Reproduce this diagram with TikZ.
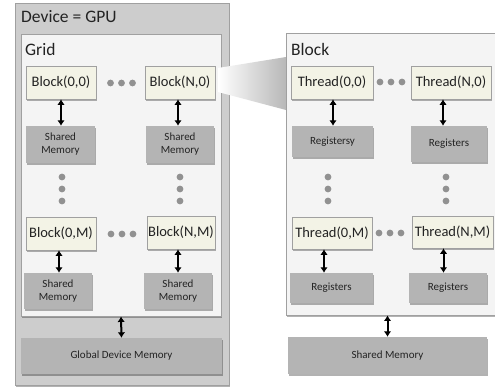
\documentclass[tikz,border=0pt]{standalone}
\usepackage{fontspec}
\setmainfont{Carlito}
\usetikzlibrary{arrows.meta,shadows}

\definecolor{devfill}{RGB}{205,205,205}
\definecolor{gridfill}{RGB}{244,244,244}
\definecolor{memfill}{RGB}{180,180,180}
\definecolor{unitfill}{RGB}{243,243,230}
\definecolor{edgec}{RGB}{160,160,160}
\definecolor{dotc}{RGB}{145,145,145}
\definecolor{inkc}{RGB}{35,35,35}

\begin{document}
\begin{tikzpicture}[x=1pt,y=-1pt,
    softshadow/.style={drop shadow={shadow xshift=1.4pt, shadow yshift=-1.6pt, opacity=0.3, fill=black}},
    panel/.style={draw=edgec, line width=0.9pt, fill=gridfill, inner sep=0pt},
    unit/.style={draw=edgec, line width=0.6pt, fill=unitfill, inner sep=0pt, minimum height=33pt,
        text=inkc, font=\fontsize{14.5}{16}\selectfont, softshadow},
    mem/.style={fill=memfill, inner sep=0pt, text=inkc, align=center,
        font=\fontsize{11}{13}\selectfont, softshadow},
    link/.style={{Latex[length=5.5pt,width=7.5pt]}-{Latex[length=5.5pt,width=7.5pt]}, line width=2pt, black},
    title/.style={anchor=base west, inner sep=0pt, text=inkc, font=\fontsize{17.5}{19}\selectfont}
]
    \clip (0,0) rectangle (495,388);

    % Device box with the grid inside
    \node[panel, fill=devfill, minimum width=214pt, minimum height=382pt, softshadow] (dev) at (122,194) {};
    \node[title] (devlabel) at (21,22) {Device = GPU};
    \node[panel, minimum width=200pt, minimum height=282pt, softshadow] (grid) at (121,175) {};
    \node[title] (gridlabel) at (25,55) {Grid};

    % Blocks of the grid
    \node[unit, minimum width=70pt] (b00) at (61,82.5) {Block(0,0)};
    \node[unit, minimum width=70pt] (bn0) at (180,82.5) {Block(N,0)};
    \node[unit, minimum width=70pt] (b0m) at (61,233.5) {Block(0,M)};
    \node[unit, minimum width=68pt] (bnm) at (181,232.5) {Block(N,M)};

    % Shared memory of each block
    \node[mem, minimum width=69pt, minimum height=37pt] (s00) at (60.5,144.5) {Shared\\Memory};
    \node[mem, minimum width=68pt, minimum height=37pt] (sn0) at (180,144.5) {Shared\\Memory};
    \node[mem, minimum width=68pt, minimum height=36pt] (s0m) at (58,291) {Shared\\Memory};
    \node[mem, minimum width=68pt, minimum height=36pt] (snm) at (178,291) {Shared\\Memory};

    % Global memory below the grid
    \node[mem, minimum width=201pt, minimum height=36pt] (glob) at (121.5,356) {Global Device Memory};

    % Zoom from Block(N,0) to the block detail
    \shade[left color=white, right color=black!28] (218,68) -- (286,57) -- (286,110) -- (218,92) -- cycle;

    % Block detail with its threads
    \node[panel, minimum width=214pt, minimum height=282pt, softshadow] (blk) at (393,174) {};
    \node[title] (blklabel) at (291,55) {Block};

    \node[unit, minimum width=82pt] (t00) at (332,82.5) {Thread(0,0)};
    \node[unit, minimum width=80pt] (tn0) at (451,82.5) {Thread(N,0)};
    \node[unit, minimum width=80pt, minimum height=32pt] (t0m) at (332,233) {Thread(0,M)};
    \node[unit, minimum width=81pt, minimum height=32pt] (tnm) at (452.5,232) {Thread(N,M)};

    % Registers of each thread
    \node[mem, minimum width=81pt, minimum height=31pt] (r00) at (332.5,141.5) {Registersy};
    \node[mem, minimum width=76pt, minimum height=36pt] (rn0) at (449,144) {Registers};
    \node[mem, minimum width=83pt, minimum height=30pt] (r0m) at (331.5,288) {Registers};
    \node[mem, minimum width=78pt, minimum height=30pt] (rnm) at (448,288) {Registers};

    % Shared memory below the block
    \node[mem, minimum width=199pt, minimum height=37pt] (smem) at (387.5,355.5) {Shared Memory};

    % Arrows between units and memories
    \foreach \u/\m/\dx in {b00/s00/0, bn0/sn0/-2, b0m/s0m/-2, bnm/snm/-3,
                           t00/r00/1, tn0/rn0/-8, t0m/r0m/-8, tnm/rnm/-9} {
        \draw[link] ([xshift=\dx pt]\u.south) -- ([xshift=\dx pt]\u.south |- \m.north);
    }
    \draw[link] (grid.south) -- (glob.north);
    \draw[link] (blk.south -| smem.north) -- (smem.north);

    % Horizontal dots between units
    \foreach \cx/\cy in {121.5/83, 122/234, 391/82, 390/233} {
        \foreach \k in {-1,0,1}
            \fill[dotc] (\cx+11*\k,\cy) circle (3.4pt);
    }

    % Vertical dots between rows
    \foreach \cx in {62,180,328,446} {
        \foreach \cy in {177,189,201}
            \fill[dotc] (\cx,\cy) circle (3.4pt);
    }
\end{tikzpicture}
\end{document}
